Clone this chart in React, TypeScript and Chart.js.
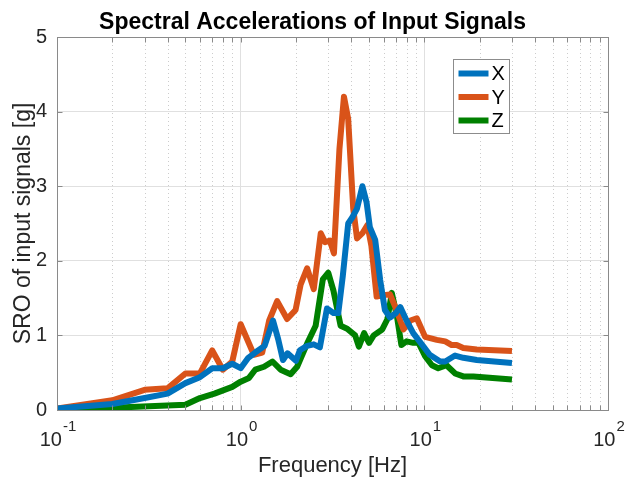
import React, { useEffect, useRef } from 'react';
import { Chart, registerables } from 'chart.js';

Chart.register(...registerables);

// ---------- data ----------
const freqX = [0.1, 0.2, 0.3, 0.4, 0.5, 0.6, 0.7, 0.8, 0.9, 1.0, 1.1, 1.2, 1.35, 1.5, 1.6, 1.7, 1.8, 2.0, 2.1, 2.3, 2.5, 2.7, 2.95, 3.2, 3.4, 3.6, 3.85, 4.05, 4.3, 4.6, 4.85, 5.05, 5.4, 5.75, 6.1, 6.5, 7.0, 7.4, 8.0, 8.7, 9.9, 10.7, 12.2, 13.0, 14.7, 16.3, 19.3, 24, 30];
const valX = [0.02, 0.08, 0.16, 0.22, 0.36, 0.44, 0.56, 0.56, 0.62, 0.56, 0.7, 0.77, 0.86, 1.2, 0.95, 0.67, 0.76, 0.66, 0.8, 0.86, 0.88, 0.84, 1.36, 1.3, 1.3, 1.8, 2.5, 2.58, 2.7, 3.0, 2.78, 2.45, 2.28, 1.74, 1.34, 1.24, 1.3, 1.38, 1.2, 1.03, 0.85, 0.74, 0.65, 0.65, 0.73, 0.7, 0.67, 0.65, 0.63];

const freqY = [0.1, 0.2, 0.3, 0.4, 0.5, 0.6, 0.7, 0.8, 0.9, 1.0, 1.18, 1.31, 1.43, 1.58, 1.79, 1.99, 2.12, 2.3, 2.5, 2.73, 2.88, 3.06, 3.22, 3.45, 3.65, 3.85, 4.1, 4.3, 4.6, 4.9, 5.15, 5.5, 6.0, 6.5, 6.9, 7.7, 8.4, 9.1, 10.1, 11.7, 13, 14.1, 15, 16.3, 19.3, 30];
const valY = [0.02, 0.13, 0.27, 0.29, 0.49, 0.49, 0.8, 0.54, 0.65, 1.15, 0.74, 0.77, 1.2, 1.46, 1.22, 1.34, 1.68, 1.9, 1.62, 2.37, 2.25, 2.27, 2.1, 3.5, 4.2, 3.9, 2.7, 2.3, 2.37, 2.48, 2.2, 1.52, 1.54, 1.55, 1.4, 1.08, 1.2, 1.23, 0.98, 0.94, 0.92, 0.87, 0.87, 0.83, 0.81, 0.79];

const freqZ = [0.1, 0.2, 0.5, 0.6, 0.72, 0.9, 1.0, 1.11, 1.2, 1.34, 1.49, 1.65, 1.87, 2.03, 2.3, 2.56, 2.8, 3.0, 3.2, 3.5, 3.8, 4.2, 4.4, 4.7, 5.0, 5.3, 5.9, 6.3, 6.65, 7.1, 7.5, 8.0, 8.7, 9.3, 10.1, 11, 11.9, 13.2, 14.7, 16.3, 18.5, 30];
const valZ = [0.01, 0.03, 0.07, 0.16, 0.22, 0.31, 0.38, 0.43, 0.54, 0.58, 0.65, 0.54, 0.48, 0.58, 0.89, 1.13, 1.75, 1.84, 1.6, 1.13, 1.09, 1.0, 0.85, 1.03, 0.9, 1.0, 1.08, 1.22, 1.57, 1.25, 0.87, 0.92, 0.9, 0.9, 0.72, 0.6, 0.56, 0.6, 0.49, 0.45, 0.45, 0.41];

const seriesNames = ['X', 'Y', 'Z'];
const seriesColors = ['#0072BD', '#D95319', '#008000'];

const xDecades = [0.1, 1, 10, 100];
const xTickBase = '10';
const xTickExponents = ['-1', '0', '1', '2'];
const xMinorMultipliers = [2, 3, 4, 5, 6, 7, 8, 9];
const yTicks = [0, 1, 2, 3, 4, 5];

const titleText = 'Spectral Accelerations of Input Signals';
const xTitle = 'Frequency [Hz]';
const yTitle = 'SRO of input signals [g]';

const FONT = '"Liberation Sans", Arial, Helvetica, sans-serif';
const AXIS_COLOR = '#8a8a8a';
const TEXT_COLOR = '#262626';

const toPoints = (f: number[], v: number[]) => f.map((x, i) => ({ x, y: v[i] }));

const decorPlugin = {
  id: 'matlabDecor',
  beforeDatasetsDraw(chart: any) {
    const { ctx, chartArea: a, scales } = chart;
    const xs = scales.x;
    ctx.save();
    ctx.strokeStyle = 'rgba(0,0,0,0.2)';
    ctx.lineWidth = 1;
    ctx.setLineDash([1, 3]);
    for (const d of xDecades.slice(0, -1)) {
      for (const m of xMinorMultipliers) {
        const px = Math.round(xs.getPixelForValue(d * m)) + 0.5;
        ctx.beginPath();
        ctx.moveTo(px, a.top);
        ctx.lineTo(px, a.bottom);
        ctx.stroke();
      }
    }
    ctx.restore();
  },
  afterDraw(chart: any) {
    const { ctx, chartArea: a, scales } = chart;
    const xs = scales.x;
    const ys = scales.y;
    ctx.save();
    ctx.strokeStyle = AXIS_COLOR;
    ctx.lineWidth = 1;
    ctx.setLineDash([]);
    const L = Math.round(a.left) + 0.5;
    const R = Math.round(a.right) + 0.5;
    const T = Math.round(a.top) + 0.5;
    const B = Math.round(a.bottom) + 0.5;
    ctx.strokeRect(L, T, R - L, B - T);
    const tl = 5;
    ctx.beginPath();
    const xTickVals: number[] = [];
    for (const d of xDecades) {
      xTickVals.push(d);
      if (d < 100) for (const m of xMinorMultipliers) xTickVals.push(d * m);
    }
    for (const v of xTickVals) {
      const px = Math.round(xs.getPixelForValue(v)) + 0.5;
      ctx.moveTo(px, B); ctx.lineTo(px, B - tl);
      ctx.moveTo(px, T); ctx.lineTo(px, T + tl);
    }
    for (const v of yTicks) {
      const py = Math.round(ys.getPixelForValue(v)) + 0.5;
      ctx.moveTo(L, py); ctx.lineTo(L + tl, py);
      ctx.moveTo(R, py); ctx.lineTo(R - tl, py);
    }
    ctx.stroke();

    // x tick labels with superscript exponents
    ctx.fillStyle = TEXT_COLOR;
    ctx.textBaseline = 'alphabetic';
    ctx.textAlign = 'left';
    const baseY = a.bottom + 36;
    xDecades.forEach((v, i) => {
      const px = xs.getPixelForValue(v);
      ctx.font = `20px ${FONT}`;
      const wBase = ctx.measureText(xTickBase).width;
      ctx.font = `15px ${FONT}`;
      const wExp = ctx.measureText(xTickExponents[i]).width;
      const start = px - (wBase + 1 + wExp) / 2 + 1;
      ctx.font = `20px ${FONT}`;
      ctx.fillText(xTickBase, start, baseY);
      ctx.font = `15px ${FONT}`;
      ctx.fillText(xTickExponents[i], start + wBase + 1, baseY - 15);
    });

    // legend
    const lx = Math.round(a.right) - 155 + 0.5;
    const ly = Math.round(a.top) + 22 + 0.5;
    const lw = 56;
    const lh = 74;
    ctx.fillStyle = '#ffffff';
    ctx.fillRect(lx, ly, lw, lh);
    ctx.strokeStyle = '#8c8c8c';
    ctx.lineWidth = 1;
    ctx.strokeRect(lx, ly, lw, lh);
    ctx.font = `20px ${FONT}`;
    ctx.textBaseline = 'middle';
    ctx.textAlign = 'left';
    chart.data.datasets.forEach((ds: any, i: number) => {
      const yy = ly + 14 + i * 23.5;
      ctx.strokeStyle = ds.borderColor;
      ctx.lineWidth = 6;
      ctx.beginPath();
      ctx.moveTo(lx + 5, yy);
      ctx.lineTo(lx + 35, yy);
      ctx.stroke();
      ctx.fillStyle = '#000000';
      ctx.fillText(ds.label, lx + 38, yy + 1);
    });
    ctx.restore();
  },
};

export default function App() {
  const canvasRef = useRef<HTMLCanvasElement | null>(null);

  useEffect(() => {
    document.body.style.margin = '0';
    const canvas = canvasRef.current;
    if (!canvas) return;
    const series = [
      { f: freqX, v: valX },
      { f: freqY, v: valY },
      { f: freqZ, v: valZ },
    ];
    const chart = new Chart(canvas, {
      type: 'line',
      data: {
        datasets: series.map((s, i) => ({
          label: seriesNames[i],
          data: toPoints(s.f, s.v),
          borderColor: seriesColors[i],
          backgroundColor: seriesColors[i],
          borderWidth: 6,
          pointRadius: 0,
          tension: 0,
          fill: false,
          borderJoinStyle: 'round' as const,
          borderCapStyle: 'butt' as const,
        })),
      },
      options: {
        responsive: false,
        animation: false,
        devicePixelRatio: 1,
        layout: { padding: 0 },
        plugins: {
          legend: { display: false },
          tooltip: { enabled: false },
          title: {
            display: true,
            text: titleText,
            color: '#000000',
            font: { family: FONT, size: 23, weight: 'bold' },
            padding: { top: 8.5, bottom: 0.9 },
          },
        },
        scales: {
          x: {
            type: 'logarithmic',
            min: 0.1,
            max: 100,
            afterBuildTicks: (scale: any) => {
              scale.ticks = xDecades.map((v) => ({ value: v }));
            },
            afterFit: (scale: any) => {
              scale.height = 71;
              scale.paddingLeft = 0;
              scale.paddingRight = 17;
            },
            ticks: { display: false },
            grid: { color: '#e0e0e0', drawTicks: false },
            border: { display: false },
            title: {
              display: true,
              text: xTitle,
              color: TEXT_COLOR,
              font: { family: FONT, size: 22 },
              padding: { top: 0, bottom: 1.8 },
            },
          },
          y: {
            type: 'linear',
            min: 0,
            max: 5,
            afterFit: (scale: any) => {
              scale.width = 57;
            },
            ticks: {
              stepSize: 1,
              padding: 10,
              color: TEXT_COLOR,
              font: { family: FONT, size: 20 },
            },
            grid: { color: '#e0e0e0', drawTicks: false },
            border: { display: false },
            title: {
              display: true,
              text: yTitle,
              color: TEXT_COLOR,
              font: { family: FONT, size: 23 },
              padding: { top: 10, bottom: 0 },
            },
          },
        },
      },
      plugins: [decorPlugin],
    });
    return () => chart.destroy();
  }, []);

  return (
    <div style={{ width: 625, height: 481, position: 'relative', background: '#ffffff' }}>
      <canvas ref={canvasRef} width={625} height={481} style={{ display: 'block' }} />
    </div>
  );
}
